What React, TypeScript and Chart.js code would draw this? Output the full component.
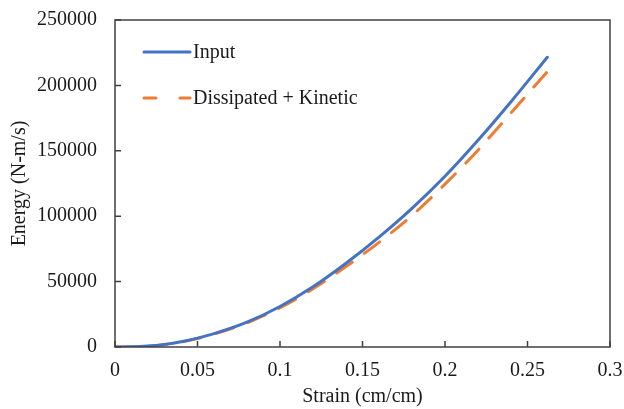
import React, { useEffect, useRef } from 'react';
import { Chart, registerables } from 'chart.js';

Chart.register(...registerables);

const strain = [0, 0.01, 0.02, 0.03, 0.04, 0.05, 0.06, 0.08, 0.1, 0.12, 0.14, 0.16, 0.18, 0.2, 0.22, 0.24, 0.262];
const inputEnergy = [0, 100, 700, 2000, 4000, 6800, 10200, 19000, 31000, 46000, 64000, 84000, 106000, 130500, 158000, 187500, 221500];
const dissipatedKinetic = [0, 0, 600, 1800, 3800, 6500, 9900, 18500, 30000, 44500, 61500, 80000, 100500, 124500, 150500, 179000, 210500];
const xTickValues = [0, 0.05, 0.1, 0.15, 0.2, 0.25, 0.3];
const yTickValues = [0, 50000, 100000, 150000, 200000, 250000];
const seriesLabels = ['Input', 'Dissipated + Kinetic'];
const seriesColors = ['#4472C4', '#ED7D31'];
const xTitle = 'Strain (cm/cm)';
const yTitle = 'Energy (N-m/s)';

const FONT_FAMILY = "'Liberation Serif', 'Times New Roman', serif";
const AXIS_COLOR = '#404040';
const TEXT_COLOR = '#1a1a1a';
const DASH = [19, 15];

const framePlugin = {
  id: 'frameAndLegend',
  afterDatasetsDraw(chart: any) {
    const { ctx, chartArea: a, scales } = chart;
    ctx.save();
    ctx.strokeStyle = AXIS_COLOR;
    ctx.lineWidth = 1.5;
    ctx.strokeRect(a.left, a.top, a.right - a.left, a.bottom - a.top);
    // inward ticks
    ctx.beginPath();
    for (const v of xTickValues) {
      const px = scales.x.getPixelForValue(v);
      ctx.moveTo(px, a.bottom);
      ctx.lineTo(px, a.bottom - 6);
    }
    for (const v of yTickValues) {
      const py = scales.y.getPixelForValue(v);
      ctx.moveTo(a.left, py);
      ctx.lineTo(a.left + 6, py);
    }
    ctx.stroke();

    // legend
    const lx0 = a.left + 29;
    const lx1 = a.left + 75;
    const rows = [a.top + 32, a.top + 78];
    ctx.font = `20px ${FONT_FAMILY}`;
    ctx.textBaseline = 'middle';
    ctx.fillStyle = TEXT_COLOR;
    seriesLabels.forEach((label, i) => {
      const y = rows[i];
      ctx.beginPath();
      ctx.strokeStyle = seriesColors[i];
      ctx.lineWidth = 3;
      ctx.lineCap = 'round';
      ctx.setLineDash(i === 1 ? [12, 24] : []);
      ctx.moveTo(lx0, y);
      ctx.lineTo(lx1, y);
      ctx.stroke();
      ctx.setLineDash([]);
      ctx.fillText(label, lx1 + 3, y + 1);
    });
    ctx.restore();
  },
};

const zeroPad = (s: any) => {
  s.paddingTop = 0;
  s.paddingBottom = 0;
  s.paddingLeft = 0;
  s.paddingRight = 0;
};

export default function App() {
  const ref = useRef<HTMLCanvasElement | null>(null);

  useEffect(() => {
    document.body.style.margin = '0';
    const canvas = ref.current;
    if (!canvas) return;
    const chart = new Chart(canvas, {
      type: 'line',
      data: {
        datasets: [
          {
            label: seriesLabels[0],
            data: strain.map((x, i) => ({ x, y: inputEnergy[i] })),
            borderColor: seriesColors[0],
            borderWidth: 3,
            pointRadius: 0,
            cubicInterpolationMode: 'monotone',
            borderCapStyle: 'round',
          },
          {
            label: seriesLabels[1],
            data: strain.map((x, i) => ({ x, y: dissipatedKinetic[i] })),
            borderColor: seriesColors[1],
            borderWidth: 3,
            borderDash: DASH,
            pointRadius: 0,
            cubicInterpolationMode: 'monotone',
            borderCapStyle: 'round',
          },
        ],
      },
      options: {
        responsive: false,
        animation: false,
        layout: { padding: { left: 0, top: 20, right: 14, bottom: 0 } },
        plugins: { legend: { display: false }, tooltip: { enabled: false } },
        scales: {
          x: {
            type: 'linear',
            min: 0,
            max: 0.3,
            grid: { display: false, drawTicks: false },
            border: { display: false },
            afterBuildTicks: (s: any) => {
              s.ticks = xTickValues.map((v) => ({ value: v }));
            },
            afterFit: (s: any) => {
              s.height = 62;
              zeroPad(s);
            },
            ticks: {
              padding: 12,
              color: TEXT_COLOR,
              font: { family: FONT_FAMILY, size: 20 },
              maxRotation: 0,
              callback: (v: any) => String(Number(Number(v).toFixed(2))),
            },
            title: {
              display: true,
              text: xTitle,
              color: TEXT_COLOR,
              font: { family: FONT_FAMILY, size: 20 },
              padding: { top: 0, bottom: 0 },
            },
          },
          y: {
            type: 'linear',
            min: 0,
            max: 250000,
            grid: { display: false, drawTicks: false },
            border: { display: false },
            afterBuildTicks: (s: any) => {
              s.ticks = yTickValues.map((v) => ({ value: v }));
            },
            afterFit: (s: any) => {
              s.width = 115;
              zeroPad(s);
            },
            ticks: {
              padding: 18,
              color: TEXT_COLOR,
              font: { family: FONT_FAMILY, size: 20 },
              callback: (v: any) => String(v),
            },
            title: {
              display: true,
              text: yTitle,
              color: TEXT_COLOR,
              font: { family: FONT_FAMILY, size: 20 },
              padding: { top: 8, bottom: 0 },
            },
          },
        },
      },
      plugins: [framePlugin],
    } as any);
    return () => chart.destroy();
  }, []);

  return <canvas ref={ref} width={624} height={409} style={{ display: 'block' }} />;
}
